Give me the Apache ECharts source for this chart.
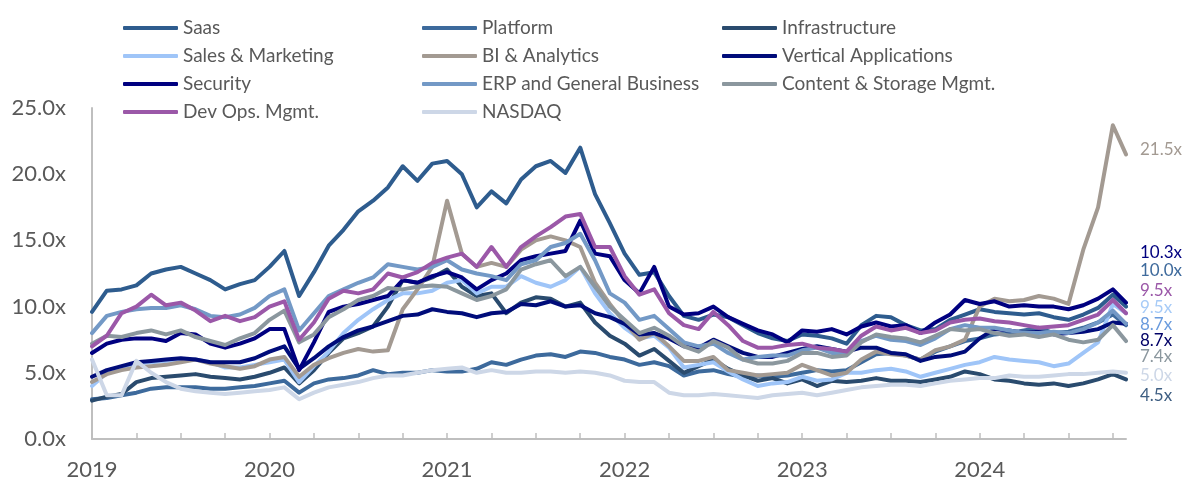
<!DOCTYPE html>
<html>
<head>
<meta charset="utf-8">
<script src="https://cdn.jsdelivr.net/npm/echarts@6/dist/echarts.min.js"></script>
<style>
html, body { margin: 0; padding: 0; background: #fff; }
#chart { width: 1186px; height: 488px; }
</style>
</head>
<body>
<div id="chart"></div>
<script>
// monthly readings, last point = last trading week shown
const dates = [
  '2019-01','2019-02','2019-03','2019-04','2019-05','2019-06','2019-07','2019-08','2019-09','2019-10','2019-11','2019-12',
  '2020-01','2020-02','2020-03','2020-04','2020-05','2020-06','2020-07','2020-08','2020-09','2020-10','2020-11','2020-12',
  '2021-01','2021-02','2021-03','2021-04','2021-05','2021-06','2021-07','2021-08','2021-09','2021-10','2021-11','2021-12',
  '2022-01','2022-02','2022-03','2022-04','2022-05','2022-06','2022-07','2022-08','2022-09','2022-10','2022-11','2022-12',
  '2023-01','2023-02','2023-03','2023-04','2023-05','2023-06','2023-07','2023-08','2023-09','2023-10','2023-11','2023-12',
  '2024-01','2024-02','2024-03','2024-04','2024-05','2024-06','2024-07','2024-08','2024-09','2024-10','2024-10-28'
];

const saas = [
  9.6, 11.2, 11.3, 11.6, 12.5, 12.8, 13.0, 12.5, 12.0, 11.3, 11.7, 12.0,
  13.0, 14.2, 10.8, 12.6, 14.6, 15.8, 17.2, 18.0, 19.0, 20.6, 19.5, 20.8,
  21.0, 20.0, 17.5, 18.7, 17.8, 19.6, 20.6, 21.0, 20.1, 22.0, 18.5, 16.3,
  14.0, 12.4, 12.6, 10.8, 9.3, 9.0, 9.4, 9.2, 8.6, 8.0, 7.6, 7.4,
  7.9, 7.8, 7.6, 7.2, 8.6, 9.3, 9.2, 8.6, 8.2, 8.3, 9.0, 9.4,
  9.8, 9.6, 9.5, 9.4, 9.5, 9.2, 9.0, 9.4, 9.9, 10.9, 10.0
];
const platform = [
  3.0, 3.1, 3.3, 3.5, 3.8, 3.9, 3.9, 3.9, 3.8, 3.8, 3.9, 4.0,
  4.2, 4.4, 3.5, 4.2, 4.5, 4.6, 4.8, 5.2, 4.9, 5.0, 5.0, 5.2,
  5.1, 5.1, 5.3, 5.8, 5.6, 6.0, 6.3, 6.4, 6.2, 6.6, 6.5, 6.2,
  6.0, 5.6, 5.8, 5.5, 4.8, 5.1, 5.2, 4.9, 4.7, 4.8, 4.7, 4.8,
  5.0, 5.2, 5.1, 5.2, 5.8, 6.4, 6.5, 6.3, 6.0, 6.6, 7.0, 7.4,
  7.6, 7.9, 8.0, 8.2, 8.4, 8.0, 8.1, 8.4, 8.8, 9.4, 8.6
];
const infrastructure = [
  2.9, 3.2, 3.4, 4.3, 4.6, 4.7, 4.8, 4.9, 4.7, 4.6, 4.5, 4.7,
  5.0, 5.4, 4.2, 5.2, 6.5, 7.6, 8.0, 8.5, 10.0, 12.0, 11.8, 12.2,
  12.8, 11.5, 10.8, 11.0, 9.5, 10.3, 10.7, 10.6, 10.0, 10.3, 8.8, 7.8,
  7.2, 6.3, 6.8, 5.9, 5.0, 5.5, 6.0, 5.3, 4.8, 4.4, 4.6, 4.2,
  4.5, 4.0, 4.4, 4.3, 4.4, 4.6, 4.4, 4.4, 4.3, 4.5, 4.7, 5.1,
  4.9, 4.5, 4.4, 4.2, 4.1, 4.2, 4.0, 4.2, 4.5, 4.9, 4.5
];
const salesMarketing = [
  4.0, 5.0, 5.3, 5.7, 5.8, 5.9, 6.0, 6.0, 5.8, 5.4, 5.4, 5.6,
  5.8, 6.0, 4.3, 5.5, 6.6, 8.0, 9.0, 9.8, 10.5, 11.0, 11.0, 11.2,
  11.8, 12.0, 11.0, 11.5, 11.5, 12.3, 11.8, 11.5, 12.0, 13.0, 11.0, 9.5,
  8.4, 7.6, 7.8, 6.9, 5.4, 5.6, 5.8, 5.1, 4.5, 4.0, 4.2, 4.3,
  4.7, 4.4, 4.5, 5.0, 5.0, 5.2, 5.3, 5.1, 4.7, 5.0, 5.3, 5.6,
  5.8, 6.2, 6.0, 5.9, 5.8, 5.5, 5.7, 6.5, 7.3, 10.2, 9.5
];
const biAnalytics = [
  4.3, 4.9, 5.2, 5.4, 5.5, 5.6, 5.8, 6.0, 5.7, 5.5, 5.3, 5.5,
  6.0, 6.2, 4.7, 5.6, 6.1, 6.5, 6.8, 6.6, 6.7, 9.8, 11.3, 13.0,
  18.0, 14.0, 13.0, 13.3, 13.0, 14.3, 15.0, 15.3, 15.0, 14.5, 11.8, 10.2,
  8.8, 7.5, 8.0, 7.0, 5.9, 5.9, 6.2, 5.2, 5.0, 4.8, 4.9, 5.0,
  5.6, 5.2, 4.8, 5.0, 6.0, 6.6, 6.4, 6.3, 6.0, 6.7, 7.0, 7.5,
  10.0, 10.6, 10.4, 10.5, 10.8, 10.6, 10.2, 14.3, 17.5, 23.7, 21.5
];
const verticalApps = [
  4.7, 5.2, 5.5, 5.8, 5.9, 6.0, 6.1, 6.0, 5.8, 5.8, 5.8, 6.1,
  6.6, 7.0, 5.3, 6.1, 7.0, 7.7, 8.2, 8.5, 8.9, 9.3, 9.4, 9.8,
  9.6, 9.5, 9.2, 9.5, 9.6, 10.2, 10.1, 10.4, 10.0, 10.1, 9.5, 9.2,
  8.7, 7.9, 8.0, 7.6, 7.0, 6.9, 7.5, 7.0, 6.5, 6.2, 6.2, 6.5,
  6.8, 7.0, 6.8, 6.6, 6.9, 6.9, 6.5, 6.4, 5.9, 6.2, 6.3, 6.6,
  7.6, 8.3, 8.2, 8.0, 8.1, 7.9, 8.0, 8.1, 8.3, 8.8, 8.7
];
const security = [
  6.5, 7.2, 7.5, 7.6, 7.6, 7.4, 8.0, 7.9, 7.2, 6.9, 7.2, 7.6,
  8.3, 8.3, 5.2, 7.3, 9.6, 10.0, 10.2, 10.5, 10.8, 12.0, 11.8, 12.3,
  12.6, 12.2, 11.3, 12.0, 12.5, 13.5, 13.8, 14.0, 14.2, 16.5, 14.0, 13.8,
  12.0, 11.0, 13.0, 10.0, 9.4, 9.5, 10.0, 9.2, 8.7, 8.2, 7.9, 7.3,
  8.2, 8.1, 8.3, 7.9, 8.5, 8.8, 8.5, 8.6, 8.0, 8.8, 9.4, 10.5,
  10.2, 10.4, 10.0, 10.1, 10.0, 10.0, 9.8, 10.1, 10.6, 11.3, 10.3
];
const erp = [
  8.0, 9.3, 9.6, 9.8, 9.9, 9.9, 10.1, 9.8, 9.3, 9.2, 9.4, 9.9,
  10.8, 11.3, 8.2, 9.5, 10.8, 11.3, 11.8, 12.2, 13.2, 13.0, 12.8, 13.0,
  13.5, 12.8, 12.5, 12.3, 12.0, 13.2, 13.5, 14.5, 14.8, 15.5, 13.5, 11.0,
  10.3, 9.0, 9.3, 8.3, 7.3, 7.0, 7.2, 6.5, 6.0, 6.2, 6.3, 6.3,
  6.7, 6.9, 6.5, 6.5, 7.4, 7.8, 7.5, 7.4, 7.1, 7.6, 8.3, 8.6,
  8.4, 8.4, 8.2, 8.0, 8.0, 8.1, 8.0, 8.3, 8.8, 9.7, 8.7
];
const contentStorage = [
  7.2, 7.8, 7.7, 8.0, 8.2, 7.9, 8.2, 7.7, 7.4, 7.1, 7.6, 8.0,
  9.0, 9.7, 7.3, 7.9, 9.2, 9.8, 10.5, 10.8, 11.4, 11.3, 11.5, 11.6,
  11.5, 11.0, 10.5, 10.8, 11.3, 12.8, 13.2, 13.5, 12.3, 13.0, 11.5, 10.0,
  9.0, 8.0, 8.4, 7.8, 7.0, 6.6, 7.4, 6.9, 6.0, 5.7, 5.7, 5.9,
  6.5, 6.5, 6.2, 6.3, 7.3, 7.9, 7.7, 7.6, 7.3, 7.8, 8.3, 8.2,
  8.3, 8.0, 7.8, 7.9, 7.7, 7.9, 7.5, 7.3, 7.5, 8.6, 7.4
];
const devOps = [
  7.0, 7.8, 9.5, 10.0, 10.9, 10.1, 10.3, 9.7, 8.9, 9.3, 8.9, 9.2,
  10.0, 10.4, 7.5, 8.8, 10.6, 11.2, 11.0, 11.3, 12.5, 12.2, 12.6, 13.3,
  13.7, 14.0, 13.0, 14.5, 13.0, 14.5, 15.3, 16.0, 16.8, 17.0, 14.5, 14.5,
  12.3, 10.9, 11.3, 9.5, 8.6, 8.3, 9.6, 8.6, 7.4, 6.9, 6.9, 7.1,
  7.2, 6.9, 6.8, 6.6, 7.8, 8.5, 8.2, 8.4, 8.0, 8.2, 8.8, 9.0,
  9.1, 8.9, 8.8, 8.6, 8.4, 8.5, 8.6, 9.0, 9.4, 10.5, 9.5
];
const nasdaq = [
  6.0, 3.3, 3.3, 5.9, 5.0, 4.3, 3.8, 3.6, 3.5, 3.4, 3.5, 3.6,
  3.7, 3.9, 3.0, 3.5, 3.9, 4.1, 4.3, 4.6, 4.8, 4.8, 5.0, 5.2,
  5.3, 5.4, 5.0, 5.2, 5.0, 5.0, 5.1, 5.1, 5.0, 5.1, 5.0, 4.8,
  4.4, 4.3, 4.3, 3.5, 3.3, 3.3, 3.4, 3.3, 3.2, 3.1, 3.3, 3.4,
  3.5, 3.3, 3.5, 3.7, 3.9, 4.0, 4.1, 4.1, 4.0, 4.2, 4.4, 4.5,
  4.6, 4.6, 4.8, 4.7, 4.7, 4.8, 4.9, 4.9, 5.0, 5.1, 5.0
];

const seriesList = [
  { name: 'Saas', data: saas, color: '#2E5C8E' },
  { name: 'Platform', data: platform, color: '#3D6A9C' },
  { name: 'Infrastructure', data: infrastructure, color: '#2A4B6E' },
  { name: 'Sales & Marketing', data: salesMarketing, color: '#9FC5F8' },
  { name: 'BI & Analytics', data: biAnalytics, color: '#A39A92' },
  { name: 'Vertical Applications', data: verticalApps, color: '#000C7A' },
  { name: 'Security', data: security, color: '#000080' },
  { name: 'ERP and General Business', data: erp, color: '#7399C6' },
  { name: 'Content & Storage Mgmt.', data: contentStorage, color: '#8B979E' },
  { name: 'Dev Ops. Mgmt.', data: devOps, color: '#9B58A8' },
  { name: 'NASDAQ', data: nasdaq, color: '#CDD7E7' }
];

function toYear(s) {
  const p = s.split('-').map(Number);
  return p[0] + (p[1] - 1) / 12 + ((p[2] || 1) - 1) / 365;
}
const xs = dates.map(toYear);
const xMin = 2019;
const xMax = xs[xs.length - 1];

const quarterTicks = [];
for (let t = 2019; t <= 2024.75; t += 0.25) quarterTicks.push(t);
const yearLabels = [2019, 2020, 2021, 2022, 2023, 2024];

const FONT = 'Lato';
const GREY_TEXT = '#595959';
const AXIS_GREY = '#BFBFBF';

function legendCol(left, data) {
  return {
    orient: 'vertical',
    left: left,
    top: 12,
    data: data,
    icon: 'roundRect',
    itemWidth: 55,
    itemHeight: 4,
    itemGap: 6,
    selectedMode: false,
    textStyle: { fontFamily: FONT, fontSize: 19, color: GREY_TEXT, lineHeight: 22 }
  };
}

// end labels, stacked down the right side
const endLabels = [
  ['BI & Analytics', 150, '#A39A92'],
  ['Security', 253, '#00007F'],
  ['Saas', 271, '#3E6A9C'],
  ['Dev Ops. Mgmt.', 291, '#9B58A8'],
  ['Sales & Marketing', 308, '#A7CBF7'],
  ['ERP and General Business', 325, '#6A9BDD'],
  ['Vertical Applications', 341, '#000066'],
  ['Content & Storage Mgmt.', 357, '#8B979E'],
  ['NASDAQ', 376, '#CDD7E7'],
  ['Infrastructure', 396, '#3E5E82']
];

const chart = echarts.init(document.getElementById('chart'));

const option = {
  animation: false,
  backgroundColor: '#fff',
  legend: [
    legendCol(118, ['Saas', 'Sales & Marketing', 'Security', 'Dev Ops. Mgmt.']),
    legendCol(417, ['Platform', 'BI & Analytics', 'ERP and General Business', 'NASDAQ']),
    legendCol(717, ['Infrastructure', 'Vertical Applications', 'Content & Storage Mgmt.'])
  ],
  grid: { left: 92, right: 1186 - 1126, top: 108, bottom: 49 },
  xAxis: {
    type: 'value',
    min: xMin,
    max: xMax,
    axisLine: { lineStyle: { color: AXIS_GREY, width: 2 } },
    axisTick: { show: true, inside: true, length: 6, customValues: quarterTicks, lineStyle: { color: AXIS_GREY, width: 1.5 } },
    axisLabel: {
      customValues: yearLabels,
      formatter: v => String(v),
      fontFamily: FONT, fontSize: 22, color: GREY_TEXT, margin: 20
    },
    splitLine: { show: false }
  },
  yAxis: {
    type: 'value',
    min: 0,
    max: 25,
    interval: 5,
    axisLine: { show: true, lineStyle: { color: AXIS_GREY, width: 2 } },
    axisTick: { show: false },
    axisLabel: {
      formatter: v => v.toFixed(1) + 'x',
      fontFamily: FONT, fontSize: 22, color: GREY_TEXT, margin: 26
    },
    splitLine: { show: false }
  },
  series: seriesList.map(s => ({
    name: s.name,
    type: 'line',
    data: s.data.map((v, i) => [xs[i], v]),
    showSymbol: false,
    symbol: 'none',
    color: s.color,
    lineStyle: { color: s.color, width: 4, cap: 'round', join: 'round' },
    emphasis: { disabled: true }
  })),
  graphic: endLabels.map(([name, y, color]) => {
    const d = seriesList.find(s => s.name === name).data;
    return {
      type: 'text',
      x: 1140,
      y: y,
      style: {
        text: d[d.length - 1].toFixed(1) + 'x',
        fill: color,
        fontFamily: FONT,
        fontSize: 17,
        verticalAlign: 'middle',
        align: 'left'
      }
    };
  })
};

chart.setOption(option);
</script>
</body>
</html>
